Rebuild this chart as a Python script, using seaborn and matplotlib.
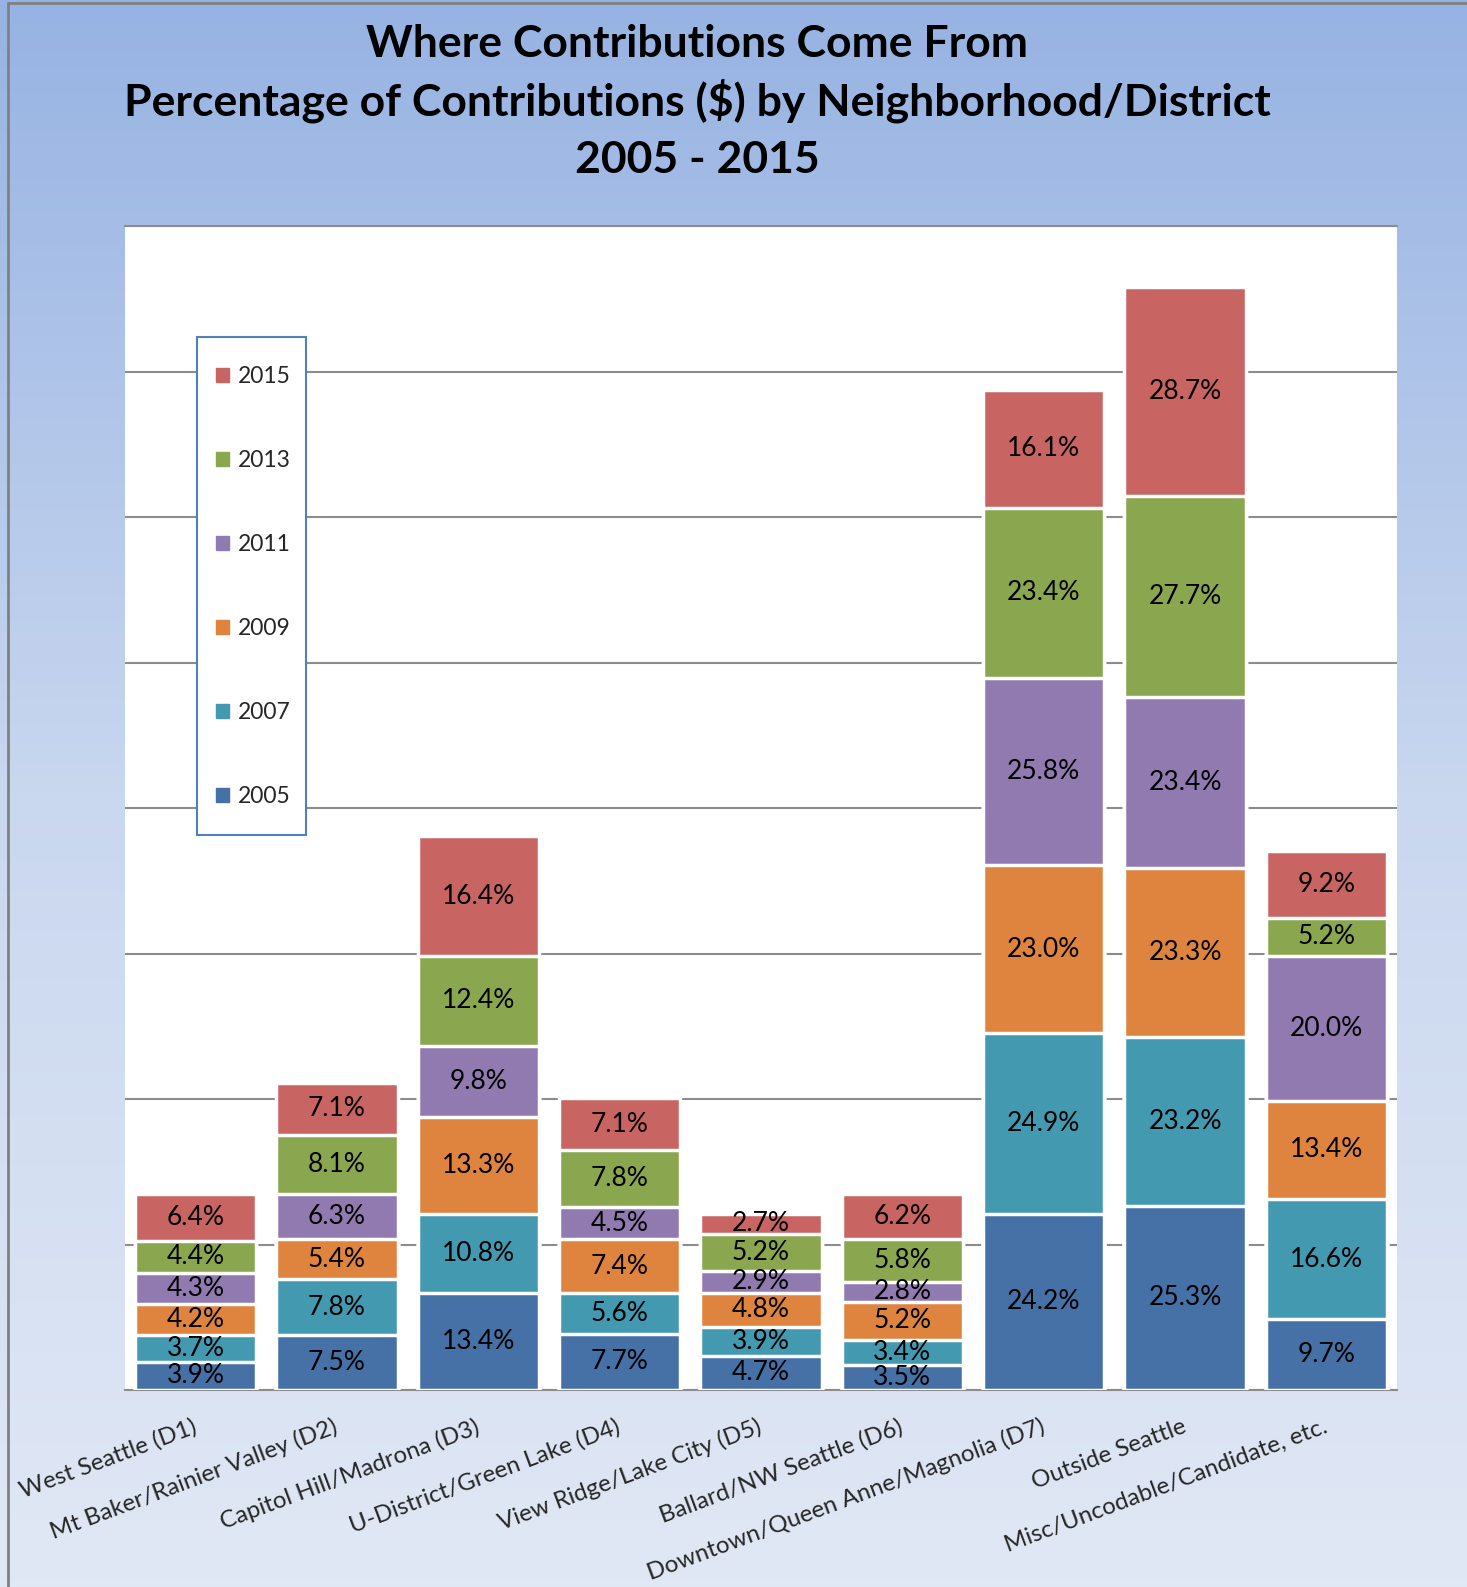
import numpy as np
import pandas as pd
import matplotlib
matplotlib.use("Agg")
from matplotlib import pyplot as plt
import matplotlib.patches as mpatches
import matplotlib.colors as mcolors
import seaborn as sns

# %% data
districts = ['West Seattle (D1)', 'Mt Baker/Rainier Valley (D2)', 'Capitol Hill/Madrona (D3)',
             'U-District/Green Lake (D4)', 'View Ridge/Lake City (D5)', 'Ballard/NW Seattle (D6)',
             'Downtown/Queen Anne/Magnolia (D7)', 'Outside Seattle', 'Misc/Uncodable/Candidate, etc.']
years = ['2005', '2007', '2009', '2011', '2013', '2015']

pct_2005 = [3.9, 7.5, 13.4, 7.7, 4.7, 3.5, 24.2, 25.3, 9.7]
pct_2007 = [3.7, 7.8, 10.8, 5.6, 3.9, 3.4, 24.9, 23.2, 16.6]
pct_2009 = [4.2, 5.4, 13.3, 7.4, 4.8, 5.2, 23.0, 23.3, 13.4]
pct_2011 = [4.3, 6.3, 9.8, 4.5, 2.9, 2.8, 25.8, 23.4, 20.0]
pct_2013 = [4.4, 8.1, 12.4, 7.8, 5.2, 5.8, 23.4, 27.7, 5.2]
pct_2015 = [6.4, 7.1, 16.4, 7.1, 2.7, 6.2, 16.1, 28.7, 9.2]

colors = ['#4571A6', '#4299B0', '#DE843E', '#917AB0', '#8AA64E', '#C86461']

df = pd.DataFrame({'district': districts, '2005': pct_2005, '2007': pct_2007, '2009': pct_2009,
                   '2011': pct_2011, '2013': pct_2013, '2015': pct_2015})
cum = df[years].cumsum(axis=1)

# %% figure
sns.set_style("white")
plt.rcParams['font.family'] = ['Lato', 'DejaVu Sans']

W, H = 1467, 1587
fig = plt.figure(figsize=(W / 100, H / 100), dpi=100)

# gradient background
bg = fig.add_axes([0, 0, 1, 1], zorder=-10)
grad = np.linspace(0, 1, 256).reshape(-1, 1)
bg_cmap = mcolors.LinearSegmentedColormap.from_list('bg', ['#97B3E3', '#C9D7EF', '#E1E8F5'])
bg.imshow(grad, aspect='auto', cmap=bg_cmap, extent=[0, 1, 0, 1], origin='upper')
bg.set_xlim(0, 1)
bg.set_ylim(0, 1)
bg.axis('off')
bg.plot([8 / W, 8 / W], [0, 1 - 3 / H], color='#808080', lw=2)
bg.plot([8 / W, 1], [1 - 3 / H, 1 - 3 / H], color='#808080', lw=2)

ax = fig.add_axes([125 / W, 1 - 1390 / H, (1397 - 125) / W, (1390 - 226) / H])
ax.set_facecolor('white')

# stacked bars: draw cumulative totals from the top series down
for i in reversed(range(len(years))):
    sns.barplot(x=df['district'], y=cum[years[i]], color=colors[i], saturation=1,
                width=0.86, edgecolor='white', linewidth=2.5, errorbar=None, ax=ax, zorder=3)

for i, yr in enumerate(years):
    for j in range(len(districts)):
        v = df[yr][j]
        ax.text(j, cum[yr][j] - v / 2, f"{v:.1f}%", ha='center', va='center',
                fontsize=19, color='black', zorder=5)

ax.set_ylim(0, 160)
ax.set_xlim(-0.5, len(districts) - 0.5)
ax.set_yticks(range(0, 161, 20))
ax.set_yticklabels([])
ax.yaxis.grid(True, color='#8C8C8C', lw=1.5)
ax.set_axisbelow(True)
ax.set_xlabel('')
ax.set_ylabel('')
ax.tick_params(left=False, bottom=False, length=0)
ax.tick_params(axis='x', pad=26)
ax.set_xticks(range(len(districts)))
ax.set_xticklabels(districts, rotation=20.5, ha='right', va='center', rotation_mode='anchor', fontsize=17.3)
for s in ['left', 'right']:
    ax.spines[s].set_visible(False)
for s in ['top', 'bottom']:
    ax.spines[s].set_color('#8C8C8C')
    ax.spines[s].set_linewidth(1.5)

# title
title_lines = ['Where Contributions Come From',
               'Percentage of Contributions ($) by Neighborhood/District',
               '2005 - 2015']
for line, yy in zip(title_lines, [44, 101, 160]):
    fig.text(697 / W, 1 - yy / H, line, ha='center', va='center', fontsize=32,
             fontweight='bold', color='black')

# legend box (drawn separately so it can be taller than the entries need)
box = mpatches.Rectangle((197 / W, 1 - 835 / H), 109 / W, 498 / H, transform=fig.transFigure,
                         facecolor='white', edgecolor='#4F81BD', linewidth=1.5, zorder=2)
fig.patches.append(box)

handles = [mpatches.Patch(color=colors[i], label=years[i]) for i in reversed(range(len(years)))]
leg = fig.legend(handles=handles, loc='upper left', bbox_to_anchor=(216 / W, 1 - 366 / H),
                 bbox_transform=fig.transFigure, frameon=False, fontsize=16.5,
                 labelspacing=2.75, handlelength=0.55, handleheight=0.55, handletextpad=0.4,
                 borderpad=0, borderaxespad=0)
leg.set_zorder(3)

plt.savefig('out.png', dpi=100)
